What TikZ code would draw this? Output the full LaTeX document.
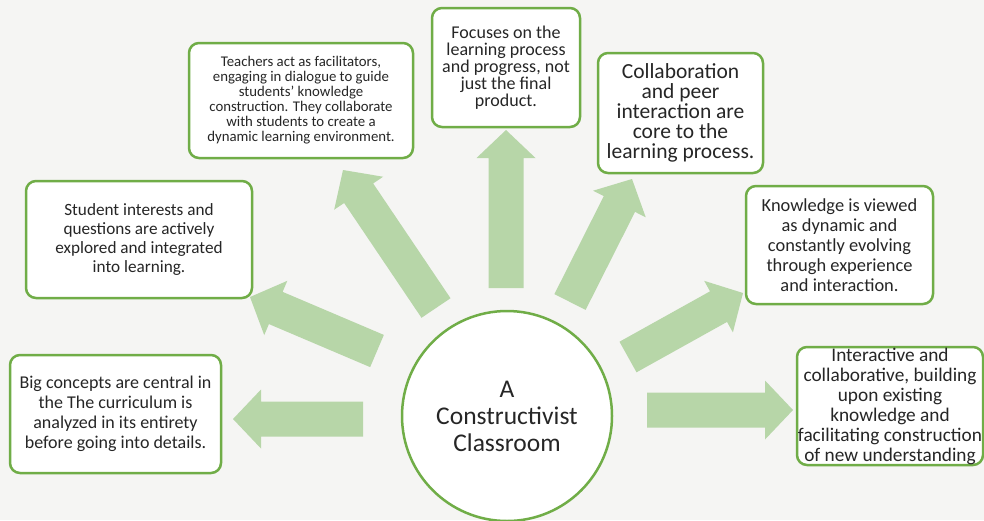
\documentclass[tikz,border=0pt]{standalone}
\usepackage{fontspec}
\setmainfont{Carlito}
\usetikzlibrary{calc}
\definecolor{bg}{RGB}{245,245,243}
\definecolor{gborder}{RGB}{112,173,71}
\definecolor{garrow}{RGB}{183,214,168}
\definecolor{txt}{RGB}{38,38,38}
\newcommand{\blockarrow}[2]{%
  \coordinate (#1-#2-h) at ($(#2)!28pt!(#1)$);
  \fill[garrow] ($(#1)!17.5pt!-90:(#2)$) -- ($(#1-#2-h)!17.5pt!-90:(#2)$) -- ($(#1-#2-h)!29.5pt!-90:(#2)$) -- (#2) -- ($(#1-#2-h)!29.5pt!90:(#2)$) -- ($(#1-#2-h)!17.5pt!90:(#2)$) -- ($(#1)!17.5pt!90:(#2)$) -- cycle;}
\begin{document}
\begin{tikzpicture}[x=1pt,y=-1pt,
  box/.style={draw=gborder, line width=2.5pt, fill=white, rounded corners=10pt, inner sep=0pt, align=center, text=txt}]
\fill[bg] (0,0) rectangle (984,520);
\useasboundingbox (0,0) rectangle (984,520);
% arrow end points
\coordinate (t1) at (363,419); \coordinate (p1) at (233,419);
\coordinate (t2) at (377,351); \coordinate (p2) at (250,297);
\coordinate (t3) at (436,308); \coordinate (p3) at (343,170);
\coordinate (t4) at (506,288); \coordinate (p4) at (506,130);
\coordinate (t5) at (570,302); \coordinate (p5) at (632,179);
\coordinate (t6) at (628,357); \coordinate (p6) at (743,293);
\coordinate (t7) at (647,410); \coordinate (p7) at (793,410);
\blockarrow{t1}{p1}
\blockarrow{t2}{p2}
\blockarrow{t3}{p3}
\blockarrow{t4}{p4}
\blockarrow{t5}{p5}
\blockarrow{t6}{p6}
\blockarrow{t7}{p7}
% boxes
\node[box, minimum width=211pt, minimum height=118pt, font=\fontsize{18}{20}\selectfont] (big) at (115.5,414)
  {Big concepts are central in\\the The curriculum is\\analyzed in its entirety\\before going into details.};
\node[box, minimum width=226pt, minimum height=117pt, font=\fontsize{17.2}{19}\selectfont] (stu) at (139,239.5)
  {Student interests and\\questions are actively\\explored and integrated\\into learning.};
\node[box, minimum width=224pt, minimum height=115pt, font=\fontsize{14.8}{15}\selectfont] (tea) at (301,100.5)
  {Teachers act as facilitators,\\engaging in dialogue to guide\\students' knowledge\\construction. They collaborate\\with students to create a\\dynamic learning environment.};
\node[box, minimum width=148pt, minimum height=119pt, font=\fontsize{18}{17}\selectfont] (foc) at (506,67.5)
  {Focuses on the\\learning process\\and progress, not\\just the final\\product.};
\node[box, minimum width=165pt, minimum height=120pt, font=\fontsize{21.5}{20}\selectfont] (col) at (680.5,113)
  {Collaboration\\and peer\\interaction are\\core to the\\learning process.};
\node[box, minimum width=187pt, minimum height=118pt, font=\fontsize{18.4}{20}\selectfont] (kno) at (839.5,245)
  {Knowledge is viewed\\as dynamic and\\constantly evolving\\through experience\\and interaction.};
\node[box, minimum width=186pt, minimum height=118pt, font=\fontsize{19.3}{20}\selectfont] (int) at (890,406)
  {Interactive and\\collaborative, building\\upon existing\\knowledge and\\facilitating construction\\of new understanding};
% centre
\node[circle, draw=gborder, line width=2.5pt, fill=white, minimum size=210pt, inner sep=0pt, align=center, text=txt, font=\fontsize{25.5}{27}\selectfont] (c) at (507,416)
  {A\\Constructivist\\Classroom};
\end{tikzpicture}
\end{document}
